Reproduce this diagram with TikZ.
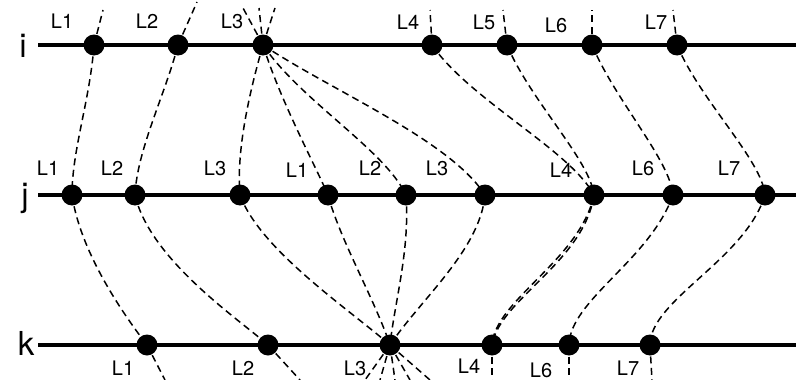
\documentclass[tikz,border=0pt]{standalone}
\usepackage{fontspec}
\setmainfont{TeX Gyre Heros}
\begin{document}
\begin{tikzpicture}[x=1pt,y=-1pt,
  rail/.style={line width=4.5pt},
  dot/.style={circle,fill=black,inner sep=0pt,minimum size=21pt},
  lk/.style={line width=1.5pt,dash pattern=on 7pt off 4.5pt},
  lab/.style={font=\fontsize{20}{22}\selectfont,inner sep=0pt},
  rowlab/.style={font=\fontsize{33}{34}\selectfont,inner sep=0pt}]
\useasboundingbox (0,0) rectangle (796,380);
% rows
\node[rowlab] (ri) at (23,46) {i};
\node[rowlab] (rj) at (25,198) {j};
\node[rowlab] (rk) at (26,343) {k};
\coordinate (ia) at (38,45); \coordinate (ib) at (796,45);
\coordinate (ja) at (38,195); \coordinate (jb) at (796,195);
\coordinate (ka) at (38,345); \coordinate (kb) at (796,345);
\draw[rail] (ia) -- (ib);
\draw[rail] (ja) -- (jb);
\draw[rail] (ka) -- (kb);
% dots
\node[dot] (i1) at (94,45) {};
\node[dot] (i2) at (178,45) {};
\node[dot] (i3) at (263,45) {};
\node[dot] (i4) at (432,45) {};
\node[dot] (i5) at (507,45) {};
\node[dot] (i6) at (592,45) {};
\node[dot] (i7) at (677,45) {};
\node[dot] (j1) at (72,195) {};
\node[dot] (j2) at (135,195) {};
\node[dot] (j3) at (240,195) {};
\node[dot] (j4) at (328,195) {};
\node[dot] (j5) at (406,195) {};
\node[dot] (j6) at (485,195) {};
\node[dot] (j7) at (594,195) {};
\node[dot] (j8) at (673,195) {};
\node[dot] (j9) at (765,195) {};
\node[dot] (k1) at (147,345) {};
\node[dot] (k2) at (268,345) {};
\node[dot] (k3) at (390,345) {};
\node[dot] (k4) at (492,345) {};
\node[dot] (k5) at (569,345) {};
\node[dot] (k6) at (650,345) {};
% labels
\node[lab] (li1) at (62,21) {L1};
\node[lab] (li2) at (147,21) {L2};
\node[lab] (li3) at (232,21) {L3};
\node[lab] (li4) at (408,22) {L4};
\node[lab] (li5) at (484,22) {L5};
\node[lab] (li6) at (556,25) {L6};
\node[lab] (li7) at (656,22) {L7};
\node[lab] (lj1) at (48,168) {L1};
\node[lab] (lj2) at (112,168) {L2};
\node[lab] (lj3) at (215,168) {L3};
\node[lab] (lj4) at (297,170) {L1};
\node[lab] (lj5) at (370,168) {L2};
\node[lab] (lj6) at (437,168) {L3};
\node[lab] (lj7) at (561,170) {L4};
\node[lab] (lj8) at (643,168) {L6};
\node[lab] (lj9) at (729,168) {L7};
\node[lab] (lk1) at (123,368) {L1};
\node[lab] (lk2) at (243,368) {L2};
\node[lab] (lk3) at (355,368) {L3};
\node[lab] (lk4) at (469,366) {L4};
\node[lab] (lk5) at (541,370) {L6};
\node[lab] (lk6) at (628,368) {L7};
% stubs above i
\coordinate (si1) at (103,10);
\coordinate (si2) at (197,2);
\coordinate (si3a) at (243,8);
\coordinate (si3b) at (259,8);
\coordinate (si3c) at (275,8);
\coordinate (si4) at (430,10);
\coordinate (si5) at (503,10);
\coordinate (si6) at (592,10);
\coordinate (si7) at (673,10);
\draw[lk] (i1.center) -- (si1);
\draw[lk] (i2.center) -- (si2);
\draw[lk] (i3.center) -- (si3a);
\draw[lk] (i3.center) -- (si3b);
\draw[lk] (i3.center) -- (si3c);
\draw[lk] (i4.center) -- (si4);
\draw[lk] (i5.center) -- (si5);
\draw[lk] (i6.center) -- (si6);
\draw[lk] (i7.center) -- (si7);
% i -> j
\draw[lk] (i1.center) .. controls (90,100) and (72,150) .. (j1.center);
\draw[lk] (i2.center) .. controls (165,95) and (137,150) .. (j2.center);
\draw[lk] (i3.center) .. controls (250,90) and (236,150) .. (j3.center);
\draw[lk] (i3.center) .. controls (280,100) and (315,165) .. (j4.center);
\draw[lk] (i3.center) .. controls (300,100) and (385,150) .. (j5.center);
\draw[lk] (i3.center) .. controls (330,90) and (450,140) .. (j6.center);
\draw[lk] (i4.center) .. controls (470,100) and (570,150) .. (j7.center);
\draw[lk] (i5.center) .. controls (530,100) and (590,160) .. (j7.center);
\draw[lk] (i6.center) .. controls (615,100) and (670,160) .. (j8.center);
\draw[lk] (i7.center) .. controls (700,100) and (762,160) .. (j9.center);
% j -> k
\draw[lk] (j1.center) .. controls (80,250) and (120,310) .. (k1.center);
\draw[lk] (j2.center) .. controls (150,260) and (240,320) .. (k2.center);
\draw[lk] (j3.center) .. controls (260,250) and (350,310) .. (k3.center);
\draw[lk] (j4.center) .. controls (340,240) and (375,300) .. (k3.center);
\draw[lk] (j5.center) .. controls (410,250) and (395,300) .. (k3.center);
\draw[lk] (j6.center) .. controls (480,250) and (420,300) .. (k3.center);
\draw[lk] (j7.center) .. controls (580,260) and (495,300) .. (k4.center);
\draw[lk] (j7.center) .. controls (584,262) and (499,300) .. (k4.center);
\draw[lk] (j8.center) .. controls (650,260) and (570,300) .. (k5.center);
\draw[lk] (j9.center) .. controls (745,260) and (650,300) .. (k6.center);
% stubs below k
\coordinate (sk1) at (165,380);
\coordinate (sk2) at (300,380);
\coordinate (sk3a) at (365,380);
\coordinate (sk3b) at (380,380);
\coordinate (sk3c) at (395,380);
\coordinate (sk3d) at (410,380);
\coordinate (sk3e) at (430,380);
\coordinate (sk4) at (492,380);
\coordinate (sk5) at (569,380);
\coordinate (sk6) at (652,380);
\draw[lk] (k1.center) -- (sk1);
\draw[lk] (k2.center) -- (sk2);
\draw[lk] (k3.center) -- (sk3a);
\draw[lk] (k3.center) -- (sk3b);
\draw[lk] (k3.center) -- (sk3c);
\draw[lk] (k3.center) -- (sk3d);
\draw[lk] (k3.center) -- (sk3e);
\draw[lk] (k4.center) -- (sk4);
\draw[lk] (k5.center) -- (sk5);
\draw[lk] (k6.center) -- (sk6);
\end{tikzpicture}
\end{document}
